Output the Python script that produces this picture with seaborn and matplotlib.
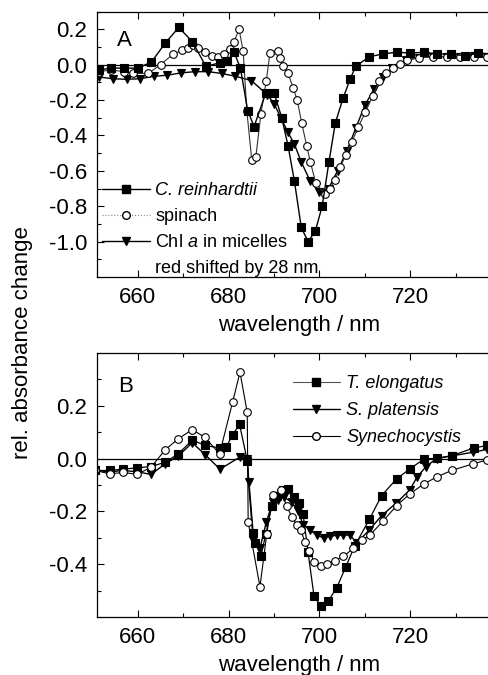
import matplotlib
matplotlib.use("Agg")
import matplotlib.pyplot as plt
from matplotlib.ticker import MultipleLocator, FormatStrFormatter
from matplotlib.lines import Line2D
import seaborn as sns
import pandas as pd

# ---------------- Panel A data ----------------
x_cr = [651.5, 654, 657, 660, 663, 666, 669, 672, 675, 678, 679.6, 681.2, 682.6, 684.2, 685.6,
        688.2, 690, 691.7, 693.1, 694.5, 696, 697.5, 699.1, 700.6, 702.1, 703.5, 705.2, 706.8,
        708, 711, 714, 717, 720, 723, 726, 729, 732, 735, 738]
y_cr = [-0.03, -0.02, -0.02, -0.02, 0.015, 0.12, 0.21, 0.13, -0.01, 0.01, 0.02, 0.07, -0.02,
        -0.26, -0.35, -0.16, -0.16, -0.30, -0.46, -0.66, -0.92, -1.0, -0.94, -0.80, -0.55,
        -0.33, -0.19, -0.08, -0.01, 0.045, 0.06, 0.07, 0.065, 0.07, 0.06, 0.06, 0.05, 0.065, 0.06]

x_spin = [651.5, 654, 657, 659, 662.3, 665, 667.8, 669.7, 671.1, 672.2, 673.3, 674.8, 676.3,
          677.7, 679, 680.3, 681.2, 682.3, 683.2, 684, 685.1, 686, 687.1, 688.3, 689.1, 690.8,
          691.3, 692, 693.1, 694.2, 695.1, 696.1, 697.2, 698, 699.2, 701.2, 702.3, 703.4,
          704.6, 705.8, 707.1, 708.6, 710.1, 711.7, 713.2, 714.7, 716.2, 717.7, 719.2, 722,
          725, 728, 731, 734, 737]
y_spin = [-0.04, -0.03, -0.04, -0.05, -0.05, 0.0, 0.06, 0.08, 0.095, 0.11, 0.095, 0.07, 0.05,
          0.045, 0.06, 0.09, 0.13, 0.2, 0.075, -0.26, -0.54, -0.52, -0.28, -0.09, 0.065, 0.075,
          0.035, -0.01, -0.05, -0.13, -0.2, -0.33, -0.46, -0.55, -0.67, -0.73, -0.70, -0.65,
          -0.58, -0.51, -0.44, -0.35, -0.27, -0.18, -0.094, -0.05, -0.02, 0.005, 0.025, 0.04,
          0.045, 0.045, 0.045, 0.045, 0.045]

x_chl = [651.5, 654.5, 657.5, 660.5, 663.5, 666.5, 669.5, 672.5, 675.5, 678.5, 681.5, 685,
         688.5, 690, 691.5, 693, 694.5, 696, 698, 700, 702, 704, 706, 708, 710, 712, 714, 716,
         719, 722, 725, 728, 731, 734, 737]
y_chl = [-0.07, -0.08, -0.083, -0.08, -0.066, -0.06, -0.047, -0.04, -0.04, -0.05, -0.066,
         -0.09, -0.17, -0.22, -0.30, -0.38, -0.45, -0.55, -0.66, -0.72, -0.70, -0.60, -0.49,
         -0.36, -0.23, -0.14, -0.07, -0.02, 0.025, 0.04, 0.045, 0.045, 0.045, 0.05, 0.045]

# ---------------- Panel B data ----------------
x_te = [650.6, 653.9, 656.8, 659.8, 662.9, 666, 668.9, 672, 674.8, 678.1, 679.4, 680.9, 682.4,
        684.1, 685.4, 685.9, 687.1, 688.2, 689.5, 690.6, 692, 693.1, 694.4, 695.4, 696.4,
        697.5, 698.8, 700.3, 701.9, 703.8, 705.8, 707.8, 711, 713.7, 717, 719.9, 723.1,
        725.8, 729.1, 734, 737]
y_te = [-0.045, -0.045, -0.04, -0.035, -0.03, -0.014, 0.018, 0.07, 0.05, 0.04, 0.043, 0.09,
        0.13, -0.008, -0.28, -0.32, -0.37, -0.285, -0.18, -0.14, -0.12, -0.115, -0.146, -0.17,
        -0.21, -0.355, -0.52, -0.56, -0.54, -0.49, -0.41, -0.33, -0.23, -0.14, -0.077, -0.039,
        -0.001, 0.001, 0.011, 0.04, 0.05]

x_spl = [650.6, 653.9, 656.8, 659.8, 662.9, 666, 668.9, 672, 674.8, 678.1, 682.4, 684.1,
         684.4, 685.4, 686.9, 688.3, 689.7, 690.9, 692.2, 693.9, 695.3, 696.4, 697.9, 699.4,
         700.9, 702.3, 703.8, 705.3, 706.8, 708.2, 711, 713.7, 716.8, 719.9, 721.5, 723.5,
         725.8, 729.1, 733.8, 737]
y_spl = [-0.045, -0.05, -0.045, -0.05, -0.06, -0.02, 0.01, 0.06, 0.015, -0.04, 0.005, 0.0,
         -0.09, -0.31, -0.34, -0.24, -0.165, -0.156, -0.146, -0.165, -0.2, -0.25, -0.27,
         -0.29, -0.3, -0.295, -0.29, -0.29, -0.29, -0.32, -0.27, -0.216, -0.17, -0.119,
         -0.07, -0.03, 0.0, 0.01, 0.024, 0.035]

x_sy = [650.6, 653.9, 656.8, 659.8, 662.9, 666, 668.9, 672, 674.8, 678, 680.9, 682.5, 684.1,
        684.3, 686.9, 688.4, 689.7, 691.5, 692.8, 693.9, 695, 695.9, 696.8, 697.8, 698.8,
        700.3, 701.7, 703.4, 705.3, 707.5, 709.3, 711.1, 714, 717, 719.9, 723, 725.8, 729.1,
        733.8, 737]
y_sy = [-0.045, -0.058, -0.052, -0.06, -0.033, 0.033, 0.075, 0.11, 0.08, 0.018, 0.216, 0.327,
        0.175, -0.24, -0.485, -0.285, -0.136, -0.12, -0.18, -0.22, -0.25, -0.27, -0.317,
        -0.35, -0.39, -0.405, -0.4, -0.386, -0.37, -0.34, -0.31, -0.29, -0.237, -0.178,
        -0.134, -0.096, -0.07, -0.045, -0.02, -0.005]

labels_a = ["C. reinhardtii", "spinach", "Chl $a$ in micelles", "red shifted by 28 nm"]
labels_b = ["T. elongatus", "S. platensis", "Synechocystis"]
xticks = [660, 680, 700, 720]
yticks_a = [-1.0, -0.8, -0.6, -0.4, -0.2, 0.0, 0.2]
yticks_b = [-0.4, -0.2, 0.0, 0.2]

# ---------------- style ----------------
sns.set_theme(style="ticks")
plt.rcParams["font.family"] = ["Liberation Sans", "DejaVu Sans"]
plt.rcParams["mathtext.fontset"] = "custom"
plt.rcParams["mathtext.it"] = "Liberation Sans:italic"
plt.rcParams["mathtext.rm"] = "Liberation Sans"
plt.rcParams["axes.unicode_minus"] = False
for k in ["text.color", "axes.labelcolor", "xtick.color", "ytick.color", "axes.edgecolor"]:
    plt.rcParams[k] = "black"

W, H = 489, 675
fig = plt.figure(figsize=(W / 100, H / 100), dpi=100)

def ax_rect(left, right, top, bottom):
    return [left / W, 1 - bottom / H, (right - left) / W, (bottom - top) / H]

axA = fig.add_axes(ax_rect(97, 501, 11.5, 277))
axB = fig.add_axes(ax_rect(97, 501, 353, 617))

def draw(ax, x, y, marker, mfc, lw, color, label, ms=5.5):
    df = pd.DataFrame({"x": x, "y": y})
    sns.lineplot(data=df, x="x", y="y", ax=ax, sort=False, estimator=None,
                 marker=marker, markersize=ms, markerfacecolor=mfc,
                 markeredgecolor="black", markeredgewidth=0.8,
                 color=color, linewidth=lw, label=label, legend=False)

draw(axA, x_chl, y_chl, "v", "black", 1.0, "black", labels_a[2], ms=6)
draw(axA, x_spin, y_spin, "o", "white", 0.8, "#333333", labels_a[1])
draw(axA, x_cr, y_cr, "s", "black", 1.0, "black", labels_a[0])

draw(axB, x_spl, y_spl, "v", "black", 1.0, "black", labels_b[1], ms=6)
draw(axB, x_te, y_te, "s", "black", 0.9, "black", labels_b[0])
draw(axB, x_sy, y_sy, "o", "white", 0.8, "black", labels_b[2])

for ax, ylim, yt in [(axA, (-1.2, 0.3), yticks_a), (axB, (-0.6, 0.4), yticks_b)]:
    ax.axhline(0, color="black", linewidth=0.9, zorder=0)
    ax.set_xlim(651, 740)
    ax.set_ylim(*ylim)
    ax.set_xticks(xticks)
    ax.xaxis.set_minor_locator(MultipleLocator(10))
    ax.set_yticks(yt)
    ax.yaxis.set_minor_locator(MultipleLocator(0.1))
    ax.yaxis.set_major_formatter(FormatStrFormatter("%.1f"))
    ax.tick_params(axis="both", which="both", direction="in", top=True, right=False,
                   labelsize=16, width=0.8, color="black", labelcolor="black")
    ax.tick_params(axis="both", which="major", length=5, pad=7)
    ax.tick_params(axis="both", which="minor", length=3)
    ax.set_xlabel("wavelength / nm", fontsize=16, labelpad=5, color="black")
    ax.set_ylabel("")
    for s in ax.spines.values():
        s.set_linewidth(0.9)
        s.set_color("black")
    ax.spines["right"].set_visible(False)

axA.text(0.068, 0.89, "A", transform=axA.transAxes, fontsize=16, ha="center", va="center")
axB.text(0.07, 0.873, "B", transform=axB.transAxes, fontsize=16, ha="center", va="center")

# legend A
hA = [Line2D([], [], color="black", lw=1.0, marker="s", ms=5.5, mfc="black", mec="black"),
      Line2D([], [], color="#888888", lw=0.8, ls=":", marker="o", ms=5.5, mfc="white", mec="black"),
      Line2D([], [], color="black", lw=1.0, marker="v", ms=6, mfc="black", mec="black"),
      Line2D([], [], color="none", lw=0)]
legA = axA.legend(hA, labels_a, loc="upper left", bbox_to_anchor=(0.012, 0.358),
                  frameon=False, fontsize=13, handlelength=2.65, handletextpad=0.3,
                  labelspacing=0.5, borderpad=0, borderaxespad=0)
legA.get_texts()[0].set_style("italic")

# legend B
hB = [Line2D([], [], color="#555555", lw=0.8, marker="s", ms=5.5, mfc="black", mec="black"),
      Line2D([], [], color="black", lw=1.0, marker="v", ms=6, mfc="black", mec="black"),
      Line2D([], [], color="black", lw=0.8, marker="o", ms=5.5, mfc="white", mec="black")]
legB = axB.legend(hB, labels_b, loc="upper left", bbox_to_anchor=(0.485, 0.915),
                  frameon=False, fontsize=13, handlelength=2.6, handletextpad=0.35,
                  labelspacing=0.55, borderpad=0, borderaxespad=0)
for t in legB.get_texts():
    t.set_style("italic")

fig.text(0.045, 0.493, "rel. absorbance change", rotation=90, ha="center", va="center",
         fontsize=16, color="black")

fig.savefig("out.png", dpi=100)
